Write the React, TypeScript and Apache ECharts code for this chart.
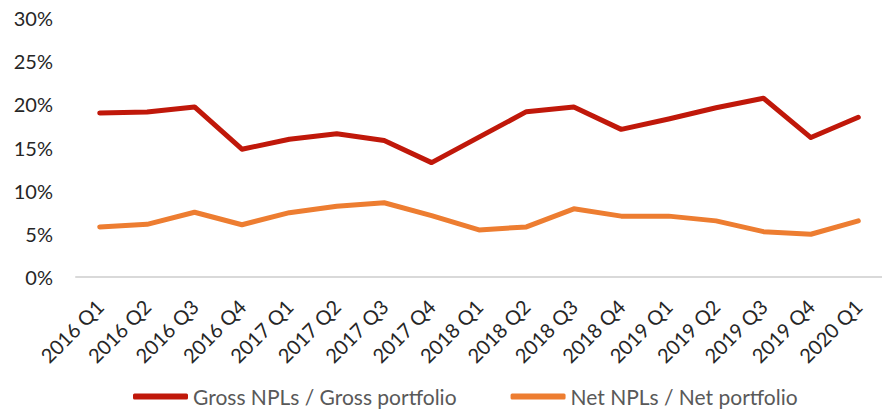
import React, { useEffect, useRef } from "react";
import * as echarts from "echarts";

const categories = [
  "2016 Q1", "2016 Q2", "2016 Q3", "2016 Q4",
  "2017 Q1", "2017 Q2", "2017 Q3", "2017 Q4",
  "2018 Q1", "2018 Q2", "2018 Q3", "2018 Q4",
  "2019 Q1", "2019 Q2", "2019 Q3", "2019 Q4",
  "2020 Q1",
];
const grossNPLs = [19.0, 19.1, 19.7, 14.8, 15.95, 16.6, 15.8, 13.25, 16.2, 19.15, 19.7, 17.1, 18.3, 19.6, 20.7, 16.15, 18.5];
const netNPLs = [5.8, 6.1, 7.5, 6.05, 7.45, 8.2, 8.6, 7.1, 5.45, 5.8, 7.9, 7.05, 7.05, 6.5, 5.25, 4.95, 6.5];
const seriesNames = ["Gross NPLs / Gross portfolio", "Net NPLs / Net portfolio"];
const yTicks = { min: 0, max: 30, interval: 5 };

export default function App() {
  const ref = useRef<HTMLDivElement>(null);
  useEffect(() => {
    document.body.style.margin = "0";
    if (!ref.current) return;
    const chart = echarts.init(ref.current, null, { renderer: "svg" });
    const font = "Lato, 'Open Sans', sans-serif";
    chart.setOption({
      animation: false,
      textStyle: { fontFamily: font },
      grid: { left: 76, right: -13, top: 18, bottom: 134, containLabel: false },
      legend: {
        top: 386,
        left: 133,
        padding: 0,
        itemWidth: 55,
        itemHeight: 6,
        itemGap: 54,
        icon: "roundRect",
        textStyle: { color: "#595959", fontSize: 21, fontFamily: font, lineHeight: 21 },
        data: seriesNames,
      },
      xAxis: {
        type: "category",
        data: categories,
        boundaryGap: true,
        axisLine: { show: true, lineStyle: { color: "#D9D9D9", width: 2 } },
        axisTick: { show: false },
        axisLabel: { rotate: 45, fontSize: 20, color: "#262626", margin: 26, interval: 0, fontFamily: font },
      },
      yAxis: {
        type: "value",
        min: yTicks.min,
        max: yTicks.max,
        interval: yTicks.interval,
        axisLine: { show: false },
        axisTick: { show: false },
        splitLine: { show: false },
        axisLabel: { formatter: "{value}%", fontSize: 20, color: "#262626", margin: 23, fontFamily: font },
      },
      series: [
        {
          name: seriesNames[0],
          type: "line",
          data: grossNPLs,
          symbol: "none",
          lineStyle: { color: "#C0180A", width: 5, cap: "round", join: "round" },
          itemStyle: { color: "#C0180A" },
        },
        {
          name: seriesNames[1],
          type: "line",
          data: netNPLs,
          symbol: "none",
          lineStyle: { color: "#ED7D31", width: 5, cap: "round", join: "round" },
          itemStyle: { color: "#ED7D31" },
        },
      ],
    });
    return () => chart.dispose();
  }, []);
  return <div ref={ref} style={{ width: 882, height: 411 }} />;
}
